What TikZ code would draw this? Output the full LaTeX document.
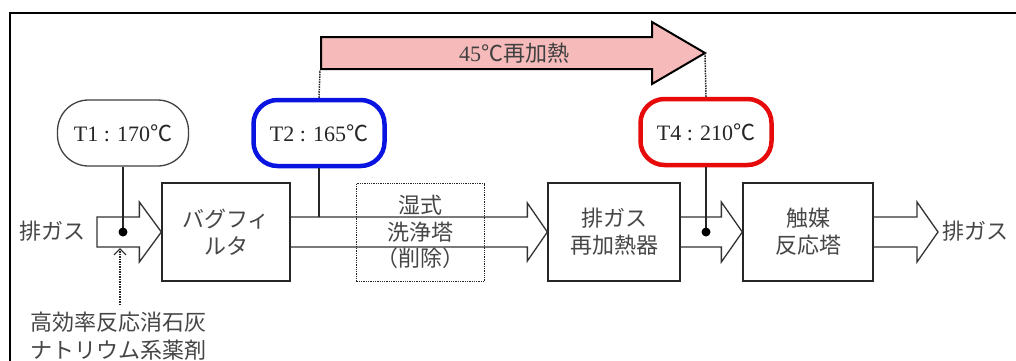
\documentclass[tikz,border=0pt]{standalone}
\usepackage{fontspec}
\setmainfont{Liberation Serif}
\newfontfamily\jp{Noto Sans CJK JP}
\usetikzlibrary{calc,arrows.meta}
\definecolor{pinkfill}{RGB}{246,186,186}
\definecolor{tblue}{RGB}{10,20,225}
\definecolor{tred}{RGB}{230,10,10}
\definecolor{txtgray}{RGB}{70,70,70}
\begin{document}
\begin{tikzpicture}[x=1pt,y=-1pt,
  txt/.style={text=txtgray, font=\jp\fontsize{22}{27}\selectfont, align=center, inner sep=0pt},
  procbox/.style={draw=black!85, line width=1.3pt, minimum width=128pt, minimum height=98pt, inner sep=0pt, txt},
  washbox/.style={procbox, draw=black!85, densely dotted, line width=1.8pt},
  tlabel/.style={rounded corners=24pt, minimum width=131pt, minimum height=66pt, inner sep=0pt,
     text=black!85, font=\fontsize{22}{26}\selectfont},
  flow/.style={draw=black!80, line width=1.3pt, line join=miter},
  conn/.style={draw=black!85, line width=1.3pt},
  dotline/.style={draw=black!85, densely dotted, line width=1.5pt},
  pinkarrow/.style={draw=black, fill=pinkfill, line width=2pt, line join=miter}]
\useasboundingbox (0,0) rectangle (1016,360);
\fill[white] (0,0) rectangle (1016,360);
% frame
\draw[line width=2pt] (10,362) -- (10,13) -- (1018,13);

% process boxes
\node[procbox] (bag) at (226,232) {バグフィ\\ルタ};
\node[procbox, minimum width=132pt] (reh) at (614,232) {排ガス\\再加熱器};
\node[procbox, minimum width=130pt] (cat) at (808,232) {触媒\\反応塔};

% flow arrows
\coordinate (in) at (97,232);
\draw[flow] ($(in)+(0,-15)$) -- ($(bag.west)+(-22,-15)$) -- ($(bag.west)+(-22,-30)$) -- (bag.west)
  -- ($(bag.west)+(-22,30)$) -- ($(bag.west)+(-22,15)$) -- ($(in)+(0,15)$) -- cycle;
\draw[flow] ($(bag.east)+(0,-15)$) -- ($(reh.west)+(-20,-15)$) -- ($(reh.west)+(-20,-29)$) -- (reh.west)
  -- ($(reh.west)+(-20,29)$) -- ($(reh.west)+(-20,15)$) -- ($(bag.east)+(0,15)$);
\draw[flow] ($(reh.east)+(0,-15)$) -- ($(cat.west)+(-21,-15)$) -- ($(cat.west)+(-21,-30)$) -- (cat.west)
  -- ($(cat.west)+(-21,30)$) -- ($(cat.west)+(-21,15)$) -- ($(reh.east)+(0,15)$);
\coordinate (out) at (938,232);
\draw[flow] ($(cat.east)+(0,-15)$) -- ($(out)+(-21,-15)$) -- ($(out)+(-21,-30)$) -- (out)
  -- ($(out)+(-21,30)$) -- ($(out)+(-21,15)$) -- ($(cat.east)+(0,15)$);

% wet scrubber (removed)
\node[washbox] (wash) at (420.5,232.5) {};
\node[txt] (w1) at (420.5,205) {湿式};
\node[txt] (w2) at (420.5,232) {洗浄塔};
\node[txt] (w3) at (420.5,258) {（削除）};

\node[txt] (exin) at (52,231) {排ガス};
\node[txt] (exout) at (975,231) {排ガス};

% temperature labels
\node[tlabel, draw=black!75, line width=1.3pt, rounded corners=31pt] (T1) at (123,133) {T1 : 170{\jp ℃}};
\node[tlabel, draw=tblue, line width=4.5pt] (T2) at (319,133) {T2 : 165{\jp ℃}};
\node[tlabel, draw=tred, line width=4.5pt] (T4) at (706,132) {T4 : 210{\jp ℃}};

\coordinate (d1) at (123,232);
\coordinate (d2) at (706,232);
\coordinate (j2) at (319,217);
\draw[conn] (T1.south) -- (d1);
\draw[conn] (T4.south) -- (d2);
\draw[conn] (T2.south) -- (j2);
\fill[black] (d1) circle (4.5);
\fill[black] (d2) circle (4.5);

% reheating arrow
\coordinate (pA) at (321,53);
\coordinate (pB) at (705,53);
\draw[pinkarrow] ($(pA)+(0,-16)$) -- ($(pB)+(-53,-16)$) -- ($(pB)+(-53,-31)$) -- (pB)
  -- ($(pB)+(-53,31)$) -- ($(pB)+(-53,16)$) -- ($(pA)+(0,16)$) -- cycle;
\node[txt, text=black!75] (rh) at (514,53) {{\rmfamily 45}℃再加熱};
\draw[dotline] (T2.north) -- ($(pA)+(-1,17)$);
\draw[dotline] (T4.north) -- (pB);

% additive
\node[txt, anchor=west, align=left, font=\jp\fontsize{22}{28}\selectfont] (cap) at (30,336) {高効率反応消石灰\\ナトリウム系薬剤};
\coordinate (ca) at (120,305);
\coordinate (cb) at (120,248);
\draw[dotline, -{Straight Barb[length=6pt,width=12pt,line width=1.2pt]}] (ca) -- (cb);
\end{tikzpicture}
\end{document}
